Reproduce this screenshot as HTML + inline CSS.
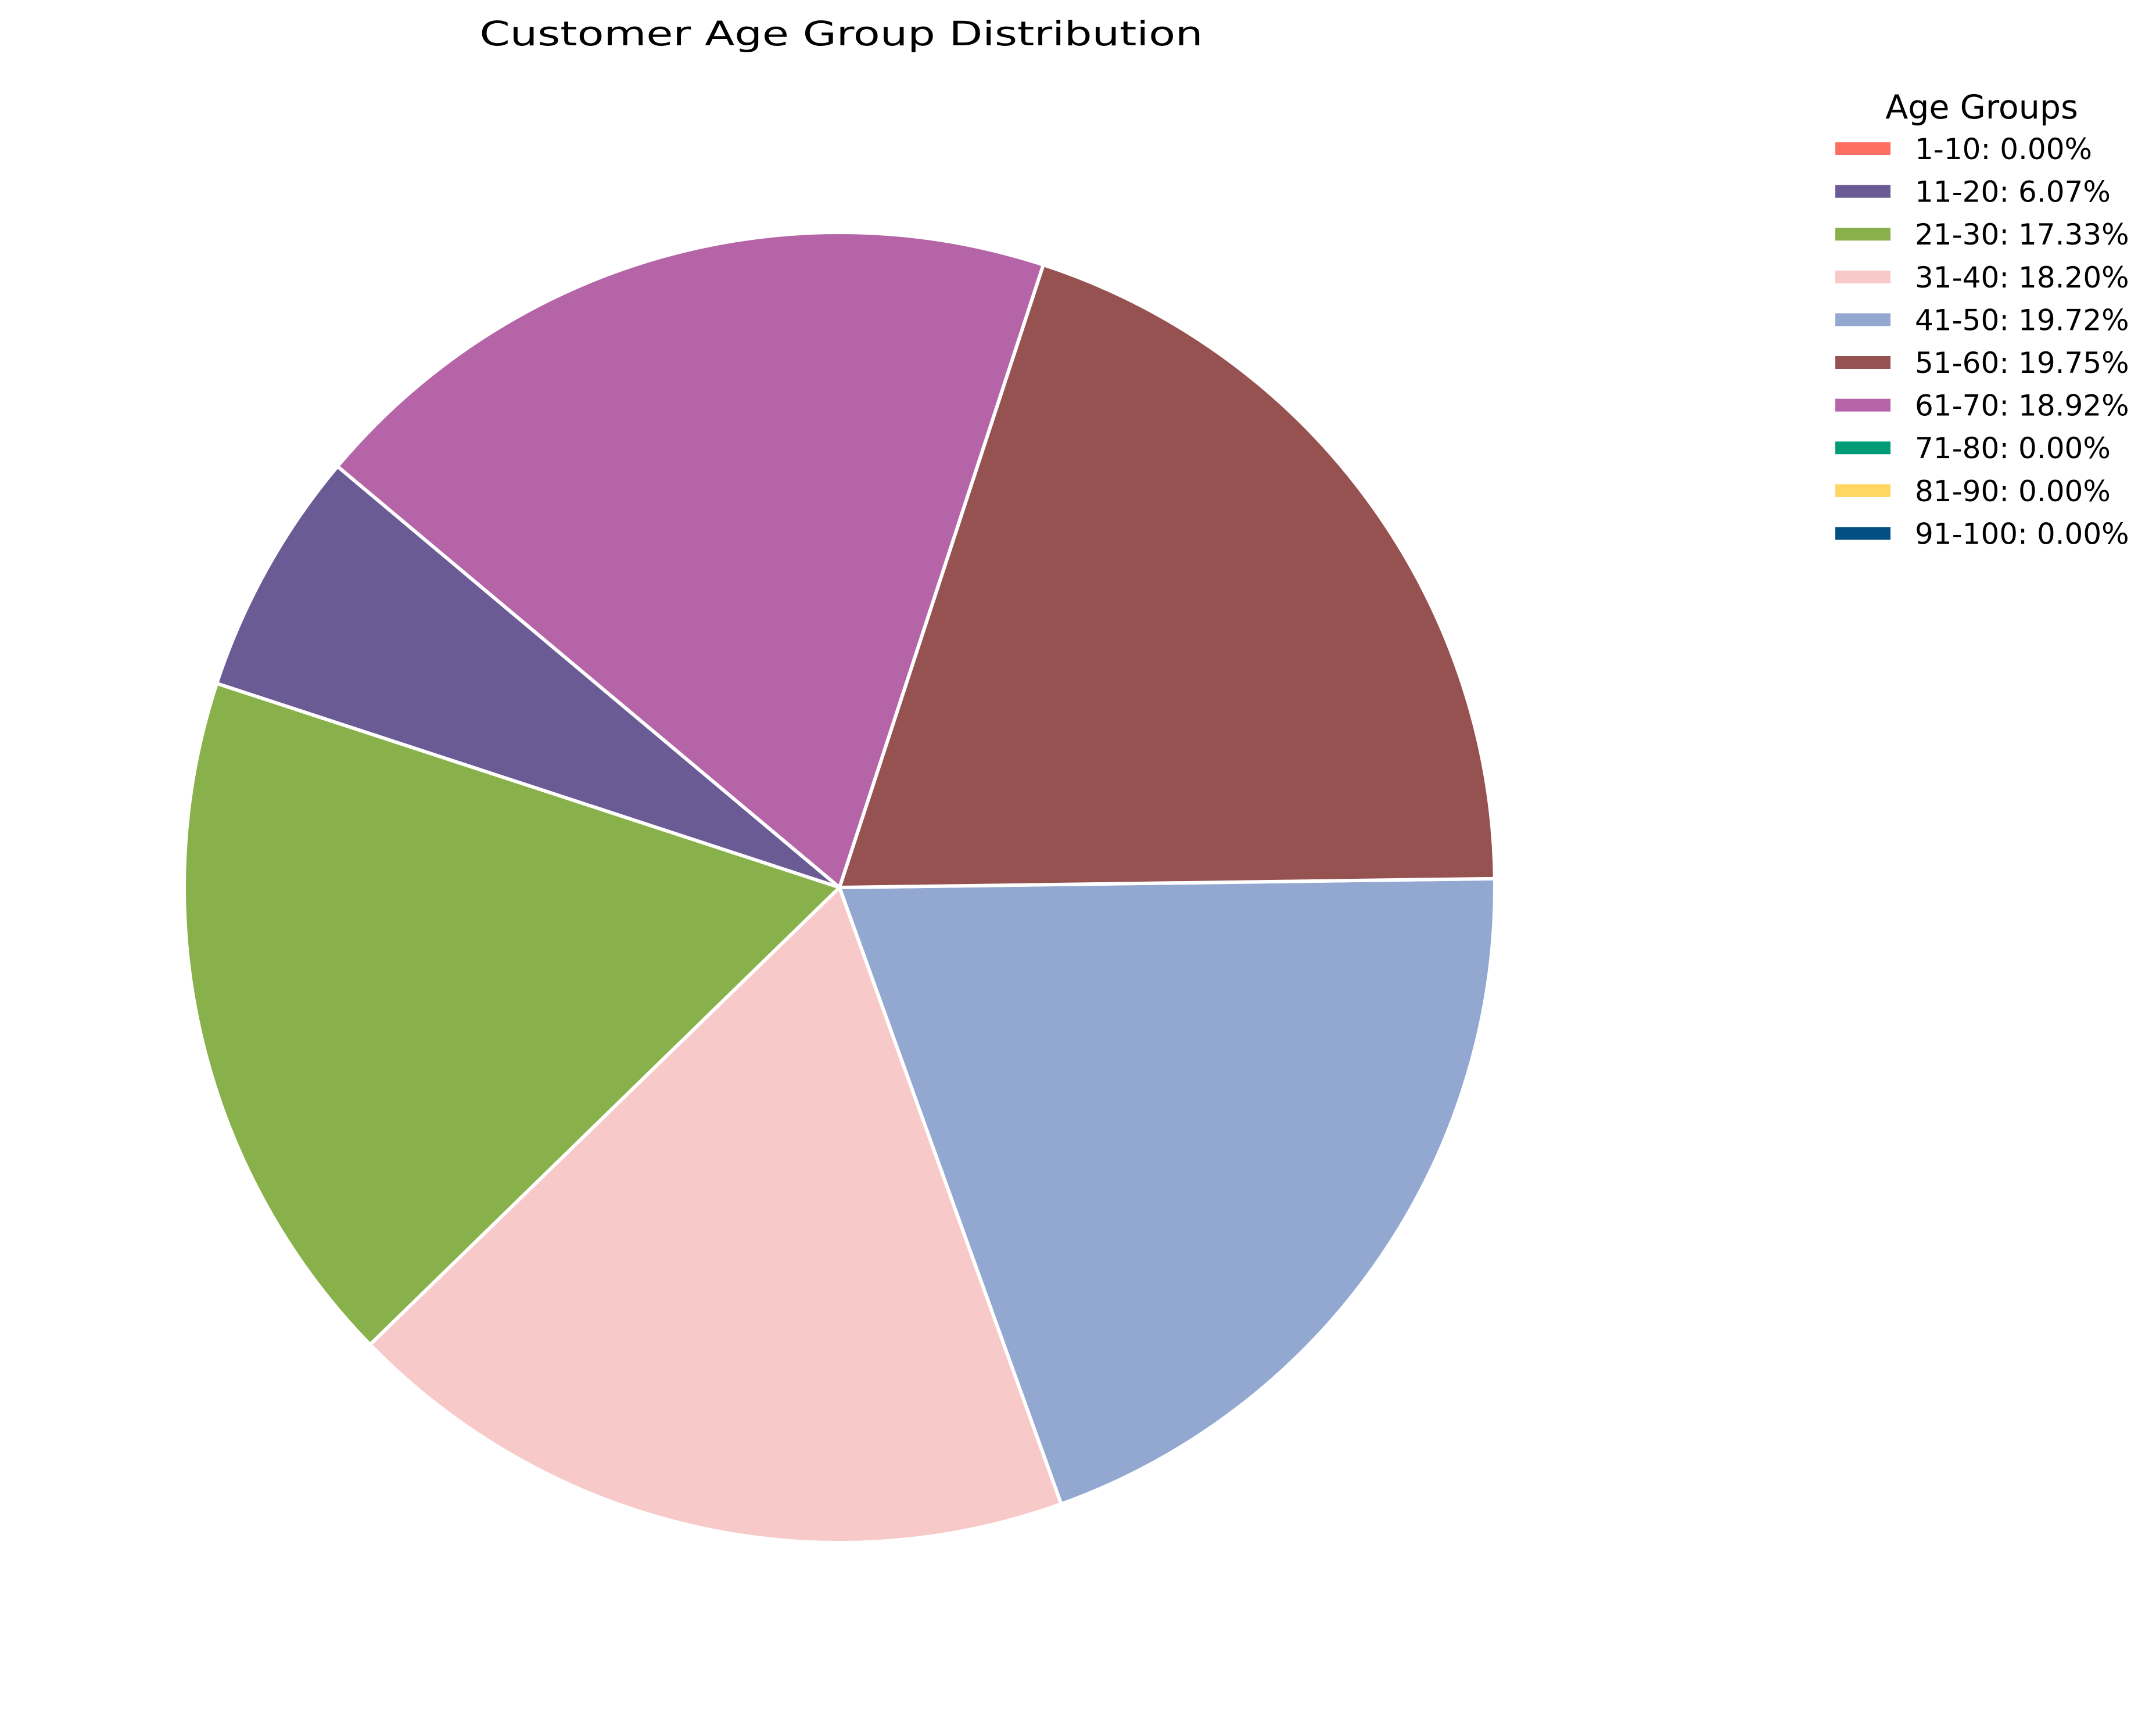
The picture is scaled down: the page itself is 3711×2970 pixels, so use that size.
<!DOCTYPE html>
<html><head><meta charset="utf-8"><style>
html,body{margin:0;padding:0;background:#fff;}
svg{display:block;font-family:"DejaVu Sans","Liberation Sans",sans-serif;}
</style></head><body>
<svg id="chart" width="3711" height="2970" viewBox="0 0 3711 2970" xmlns="http://www.w3.org/2000/svg">
<rect width="3711" height="2970" fill="#fff"/>
<text x="1448" y="78" font-size="58" text-anchor="middle" textLength="1245" lengthAdjust="spacingAndGlyphs">Customer Age Group Distribution</text>
<g id="slices"></g>
<g id="legend">
<text x="3411" y="204" font-size="57" text-anchor="middle">Age Groups</text>
</g>
</svg>
<script>
const categories = ["1-10","11-20","21-30","31-40","41-50","51-60","61-70","71-80","81-90","91-100"];
const values = [0.00, 6.07, 17.33, 18.20, 19.72, 19.75, 18.92, 0.00, 0.00, 0.00];
const colors = ["#ff6f61","#6b5b95","#88b04b","#f7cac9","#92a8d1","#955251","#b565a7","#009b77","#ffd662","#034f84"];
const startAngle = 140;
const cx = 1445, cy = 1528, r = 1128;
const NS = "http://www.w3.org/2000/svg";
const total = values.reduce((a,b)=>a+b,0);
const g = document.getElementById('slices');
let ang = startAngle;
function pt(a){const t=a*Math.PI/180;return [cx+r*Math.cos(t), cy-r*Math.sin(t)];}
values.forEach((v,i)=>{
  const sweep = v/total*360;
  if (sweep <= 0) { return; }
  const a0 = ang, a1 = ang + sweep;
  const p0 = pt(a0), p1 = pt(a1);
  const large = sweep > 180 ? 1 : 0;
  const path = document.createElementNS(NS,'path');
  path.setAttribute('d', `M${cx},${cy} L${p0[0]},${p0[1]} A${r},${r} 0 ${large} 0 ${p1[0]},${p1[1]} Z`);
  path.setAttribute('fill', colors[i]);
  path.setAttribute('stroke', '#fff');
  path.setAttribute('stroke-width', '6');
  path.setAttribute('stroke-linejoin', 'round');
  
  
  g.appendChild(path);
  ang = a1;
});
const lg = document.getElementById('legend');
categories.forEach((c,i)=>{
  const y = 245 + i*73.6;
  const rect = document.createElementNS(NS,'rect');
  rect.setAttribute('x', 3159); rect.setAttribute('y', y);
  rect.setAttribute('width', 95); rect.setAttribute('height', 22);
  rect.setAttribute('fill', colors[i]);
  
  
  lg.appendChild(rect);
  const t = document.createElementNS(NS,'text');
  t.setAttribute('x', 3296); t.setAttribute('y', y + 29);
  t.setAttribute('font-size', '50');
  t.textContent = c + ': ' + values[i].toFixed(2) + '%';
  
  
  lg.appendChild(t);
});
</script>
</body></html>
